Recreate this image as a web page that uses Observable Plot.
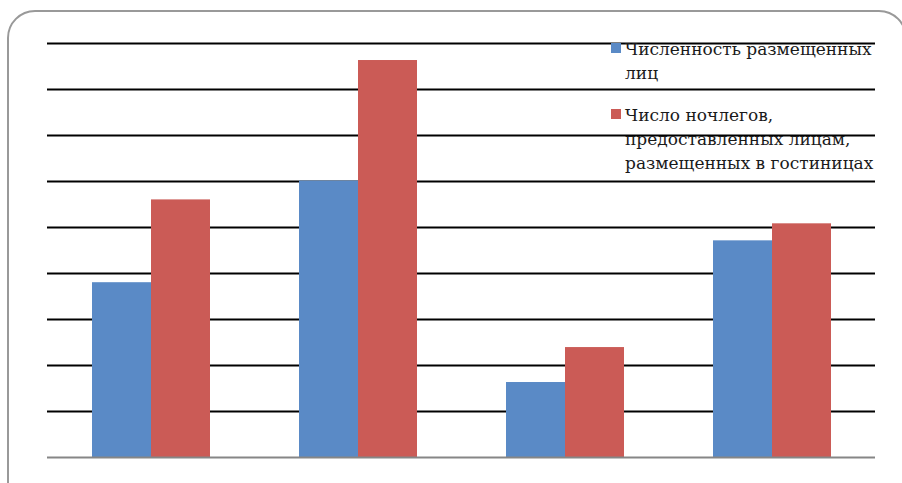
<!DOCTYPE html>
<html>
<head>
<meta charset="utf-8">
<script src="https://cdn.jsdelivr.net/npm/d3@7"></script>
<script src="https://cdn.jsdelivr.net/npm/@observablehq/plot@0.6"></script>
<style>
  html, body { margin: 0; padding: 0; background: #fff; }
  #wrap { position: relative; width: 902px; height: 483px; overflow: hidden; }
  #frame { position: absolute; left: 7px; top: 10px; width: 900px; height: 500px; box-sizing: border-box;
           border: 2px solid #999; border-radius: 28px; pointer-events: none; }
  .leg { position: absolute; left: 611px; font-family: "DejaVu Serif", serif;
         font-size: 17px; line-height: 24px; color: #1a1a1a; white-space: nowrap; }
  .sw { position: absolute; width: 10px; height: 10px; }
  .lt { position: absolute; left: 14px; top: 0; }
</style>
</head>
<body>
<div id="wrap">
  <div id="chart"></div>
  <div id="frame"></div>
  <div id="legend"></div>
</div>
<script>
// Data (units of one gridline step)
const categories = ["1", "2", "3", "4"];
const series = ["Численность размещенных лиц", "Число ночлегов, предоставленных лицам, размещенных в гостиницах"];
const legendLines = [["Численность размещенных", "лиц"], ["Число ночлегов,", "предоставленных лицам,", "размещенных в гостиницах"]];
const guests = [3.80, 6.01, 1.63, 4.71];
const nights = [5.60, 8.63, 2.39, 5.08];
const gridTicks = [1, 2, 3, 4, 5, 6, 7, 8, 9];
const colors = ["#5a8ac6", "#cb5b56"];

const rows = [];
categories.forEach((c, i) => {
  rows.push({cat: c, series: series[0], value: guests[i]});
  rows.push({cat: c, series: series[1], value: nights[i]});
});

const chart = Plot.plot({
  width: 902,
  height: 483,
  marginLeft: 45,
  marginRight: 26,
  marginTop: 43,
  marginBottom: 26,
  fx: {domain: categories, paddingInner: 0, paddingOuter: 0, axis: null, label: null},
  x: {domain: series, paddingInner: 0, paddingOuter: 0.731, axis: null},
  y: {domain: [0, 9], axis: null},
  color: {domain: series, range: colors},
  marks: [
    Plot.ruleY(gridTicks, {stroke: "#000", strokeWidth: 2.2}),
    Plot.barY(rows, {fx: "cat", x: "series", y: "value", fill: "series", inset: 0}),
    Plot.ruleY([0], {stroke: "#868686", strokeWidth: 2.2})
  ]
});
document.getElementById("chart").appendChild(chart);

// Legend (HTML overlay)
const legend = document.getElementById("legend");
const legendTops = [37, 103];
const swatchTops = [43, 109];
series.forEach((s, i) => {
  const d = document.createElement("div");
  d.className = "leg";
  d.style.top = legendTops[i] + "px";
  const sw = document.createElement("div");
  sw.className = "sw";
  sw.style.background = colors[i];
  sw.style.top = (swatchTops[i] - legendTops[i]) + "px";
  sw.style.left = "0px";
  d.appendChild(sw);
  const t = document.createElement("div");
  t.className = "lt";
  legendLines[i].forEach((line, k) => {
    if (k) t.appendChild(document.createElement("br"));
    t.appendChild(document.createTextNode(line));
  });
  d.appendChild(t);
  legend.appendChild(d);
});
</script>
</body>
</html>
